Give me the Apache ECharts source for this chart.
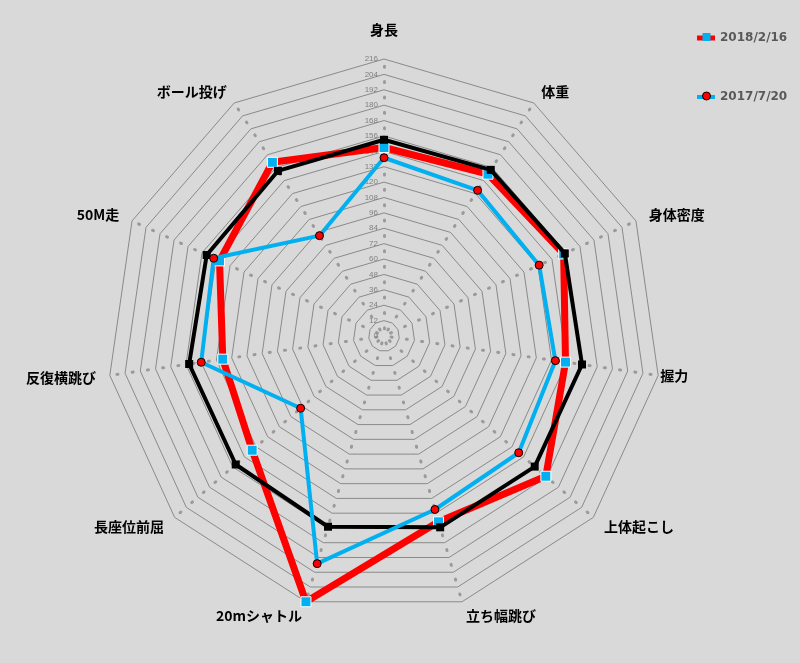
<!DOCTYPE html>
<html>
<head>
<meta charset="utf-8">
<script src="https://cdn.jsdelivr.net/npm/echarts@6/dist/echarts.min.js"></script>
<style>
html,body{margin:0;padding:0;background:#d9d9d9;}
#chart{width:800px;height:663px;}
</style>
</head>
<body>
<div id="chart"></div>
<script>
// Categories listed clockwise starting from the top
var categories = ['身長','体重','身体密度','握力','上体起こし','立ち幅跳び','20mシャトル','長座位前屈','反復横跳び','50M走','ボール投げ'];
var seriesNames = ['2018/2/16','2017/7/20'];
var values2018 = [147, 150, 154, 143, 167, 151, 216, 136, 127, 141, 161];
var values2017 = [139, 135, 133, 135, 139, 141, 185, 86, 144, 146, 93];
var valuesBase = [153, 154, 155, 156, 155.5, 155.5, 155, 153, 153.5, 152, 153];
var axisMin = 0, axisMax = 216, axisStep = 12;

// ECharts places radar indicators counter-clockwise: keep first, reverse the rest
function ccw(arr){ return [arr[0]].concat(arr.slice(1).reverse()); }

var R = 277;
var C = [384, 336];
var ring = R / ((axisMax - axisMin) / axisStep);
var nameFont = {color:'#000', fontSize:14, fontWeight:'bold', fontFamily:'Noto Sans CJK JP'};
var legendText = {color:'#595959', fontSize:12, fontWeight:'bold', fontFamily:'DejaVu Sans', lineHeight:14};

var chart = echarts.init(document.getElementById('chart'));
chart.setOption({
  backgroundColor:'#d9d9d9',
  animation:false,
  legend:[
    {
      orient:'vertical', left:692, top:26, itemGap:45, itemWidth:18, itemHeight:14,
      selectedMode:false,
      data:[
        {name:seriesNames[0], icon:'path://M0,0H18V5H0Z', itemStyle:{color:'#ff0000', borderWidth:0}},
        {name:seriesNames[1], icon:'path://M0,0H18V4H0Z', itemStyle:{color:'#00b0f0', borderWidth:0}}
      ],
      textStyle:legendText
    },
    {
      orient:'vertical', left:697, top:25, itemGap:45, itemWidth:8, itemHeight:8,
      selectedMode:false,
      data:[
        {name:seriesNames[0], icon:'rect', itemStyle:{color:'#00b0f0', borderWidth:0}},
        {name:seriesNames[1], icon:'circle', itemStyle:{color:'#ff0000', borderColor:'#000', borderWidth:1}}
      ],
      textStyle:{color:'rgba(0,0,0,0)', fontSize:12, fontWeight:'bold', fontFamily:'DejaVu Sans', lineHeight:14}
    }
  ],
  polar:{center:C, radius:R},
  angleAxis:{show:false, type:'value', min:0, max:360, startAngle:90},
  radiusAxis:{
    type:'value', min:axisMin, max:axisMax, interval:axisStep,
    axisLine:{show:false}, axisTick:{show:false}, splitLine:{show:false},
    axisLabel:{fontSize:8, color:'#7f7f7f', fontFamily:'Liberation Sans', margin:6}
  },
  radar:[
    {
      center:C, radius:R, startAngle:90, splitNumber:(axisMax-axisMin)/axisStep, shape:'polygon',
      indicator: ccw(categories).map(function(n){return {name:(n === '握力' ? '' : n), min:axisMin, max:axisMax};}),
      nameGap:14,
      axisName:Object.assign({
        formatter:function(n){ return n === '身長' ? '{up|' + n + '}' : n; },
        rich:{up:Object.assign({padding:[0,0,8,0]}, nameFont)}
      }, nameFont),
      splitLine:{lineStyle:{color:'#8a8a8a', width:1}},
      splitArea:{show:false},
      axisLine:{lineStyle:{color:'#9a9a9a', width:3, type:[1, ring-1], dashOffset: ring - (ring/2 - 0.5)}}
    },
    {
      center:C, radius:R, startAngle:90, splitNumber:(axisMax-axisMin)/axisStep, shape:'polygon',
      indicator: ccw(categories).map(function(n){return {name:(n === '握力' ? n : ''), min:axisMin, max:axisMax};}),
      nameGap:2,
      axisName:nameFont,
      splitLine:{show:false}, splitArea:{show:false}, axisLine:{show:false}
    }
  ],
  series:[
    {
      type:'radar', name:seriesNames[0], radarIndex:0, z:2,
      symbol:'rect', symbolSize:10,
      lineStyle:{color:'#ff0000', width:7},
      itemStyle:{color:'#00b0f0', borderColor:'#ffffff', borderWidth:1},
      data:[{name:seriesNames[0], value:ccw(values2018)}]
    },
    {
      type:'radar', name:'基準', radarIndex:0, z:3,
      symbol:'rect', symbolSize:8,
      lineStyle:{color:'#000000', width:4},
      itemStyle:{color:'#000000'},
      data:[{name:'基準', value:ccw(valuesBase)}]
    },
    {
      type:'radar', name:seriesNames[1], radarIndex:0, z:4,
      symbol:'circle', symbolSize:8,
      lineStyle:{color:'#00b0f0', width:4},
      itemStyle:{color:'#ff0000', borderColor:'#000000', borderWidth:1},
      data:[{name:seriesNames[1], value:ccw(values2017)}]
    }
  ]
});
</script>
</body>
</html>
